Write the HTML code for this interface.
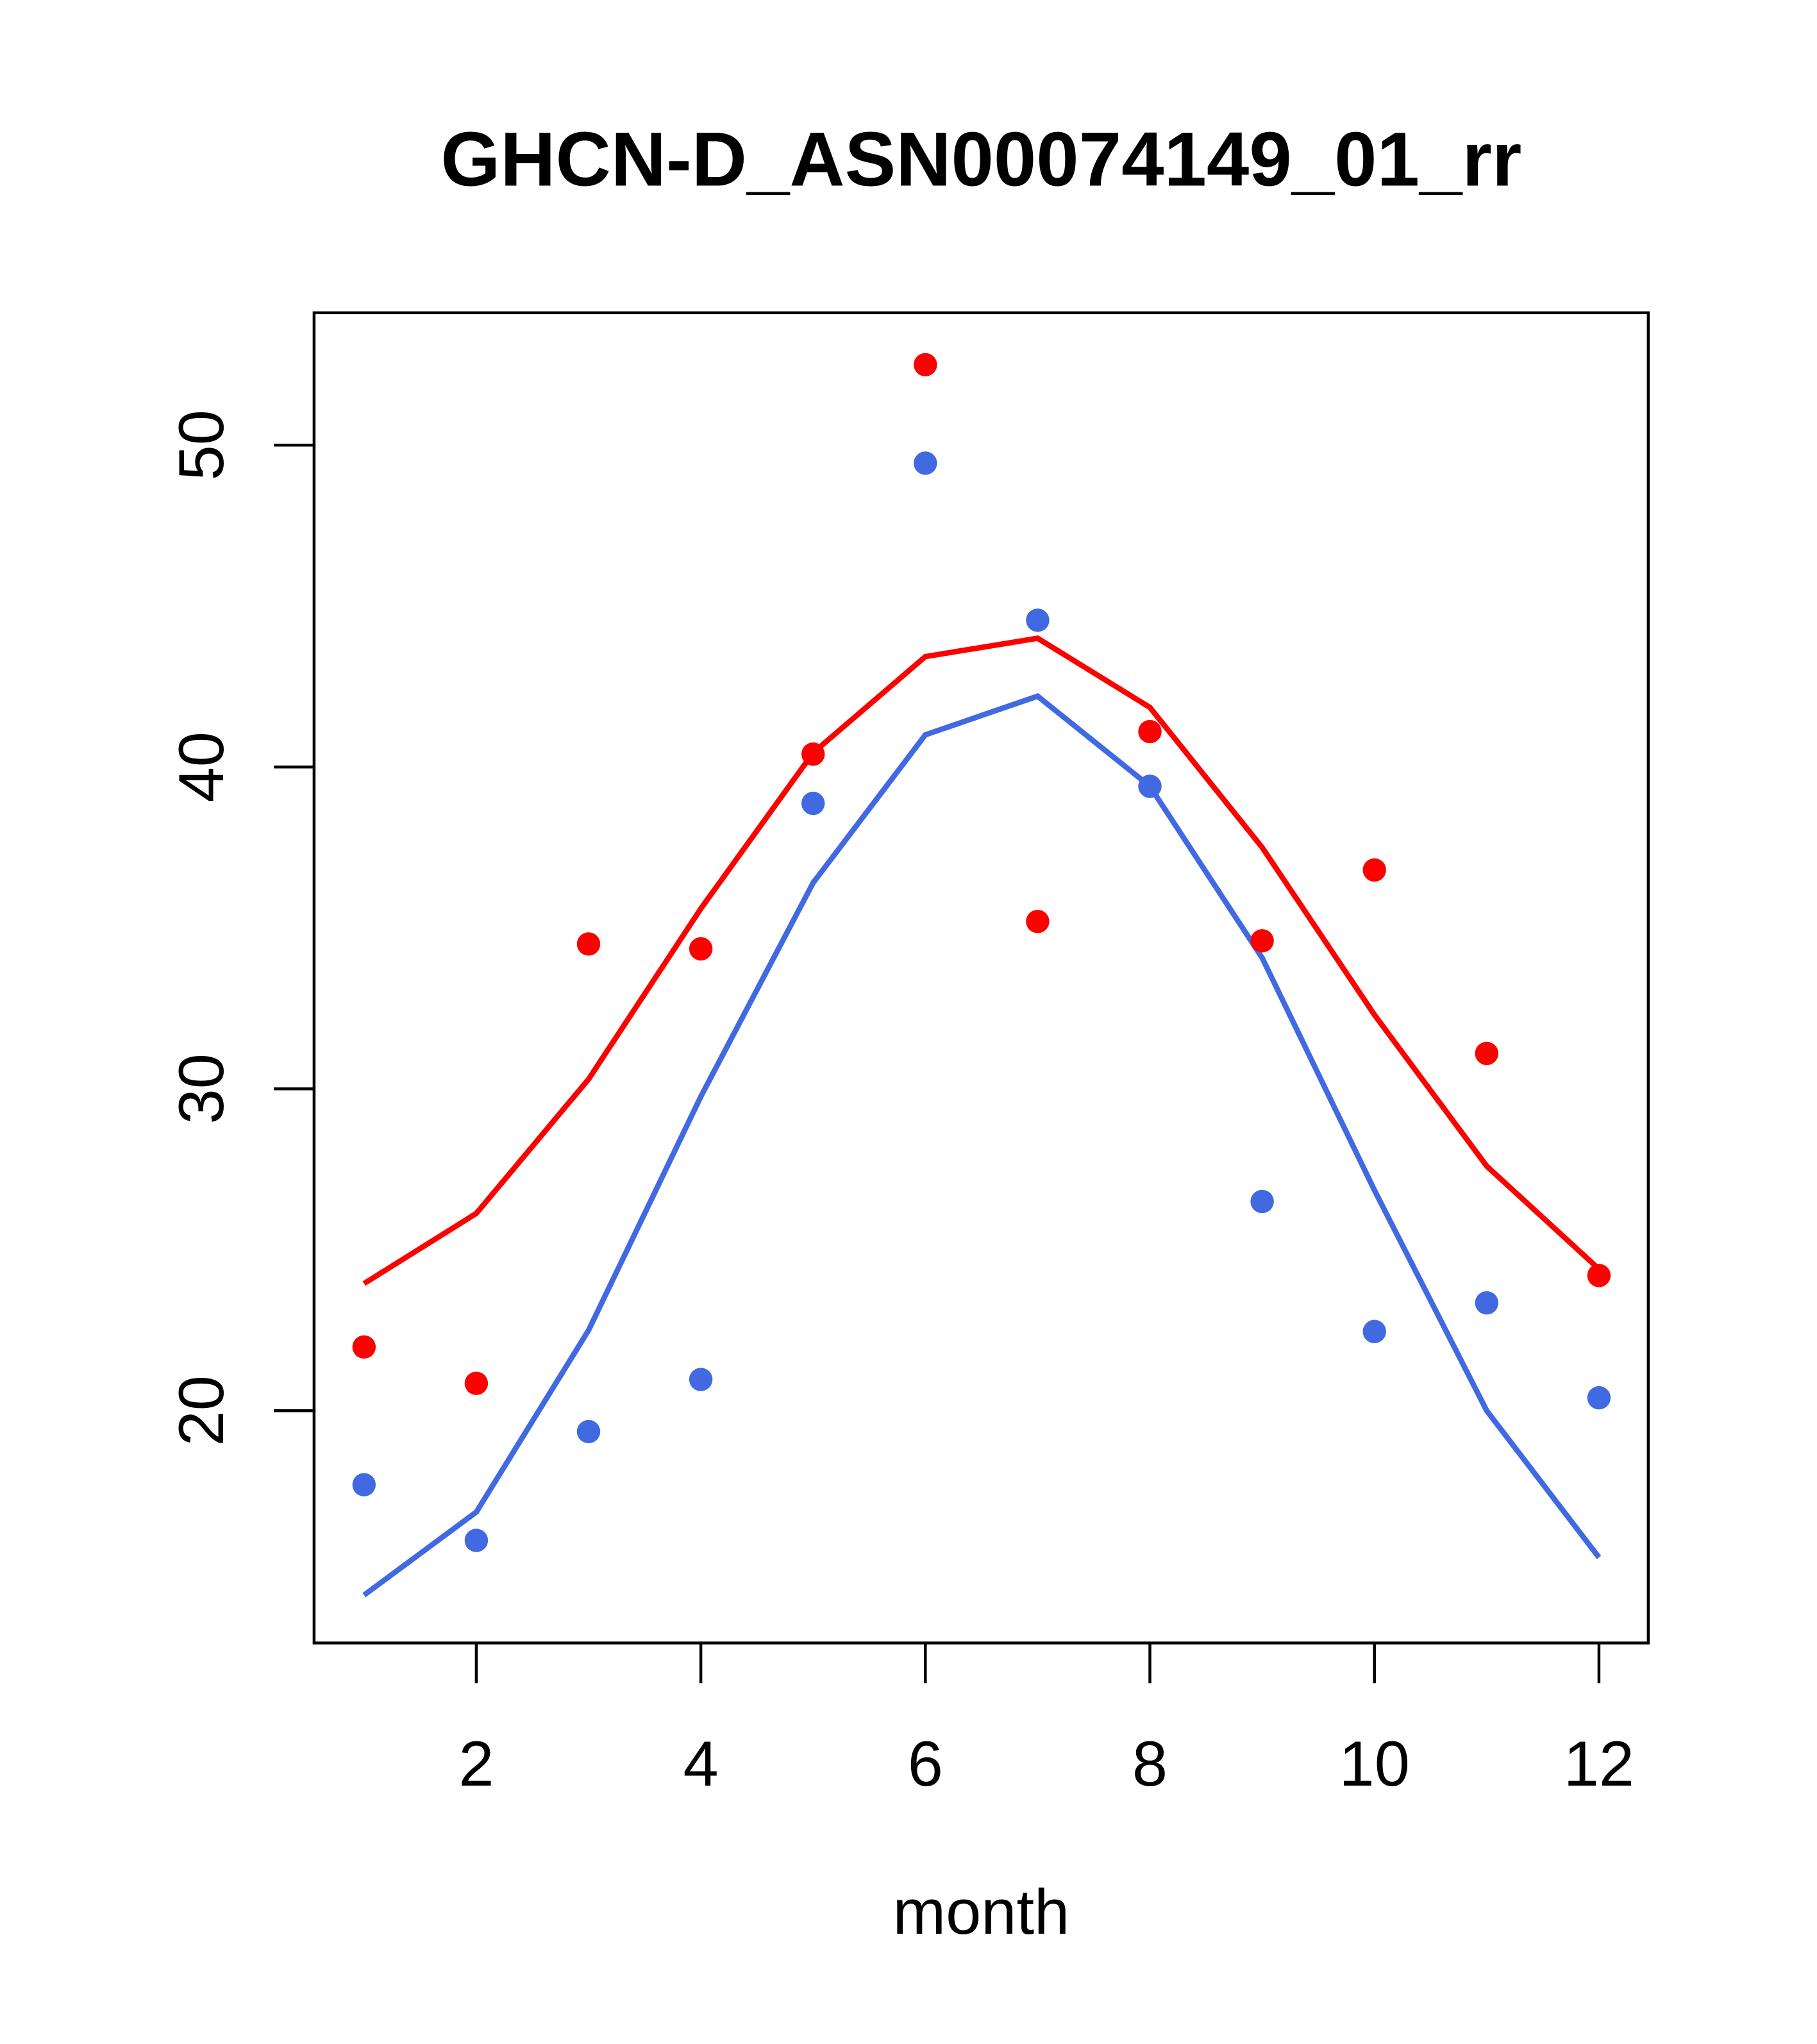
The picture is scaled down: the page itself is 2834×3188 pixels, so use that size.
<!DOCTYPE html>
<html><head><meta charset="utf-8"><style>
html,body{margin:0;padding:0;background:#fff;}
svg{display:block;}
text{font-family:"Liberation Sans",Arial,sans-serif;fill:#000;}
</style></head><body>
<svg id="chart" width="2834" height="3188" viewBox="0 0 1400 1575" preserveAspectRatio="none" xmlns="http://www.w3.org/2000/svg">
<rect x="0" y="0" width="1400" height="1575" fill="#fff"/>
<text x="756" y="143" text-anchor="middle" font-size="59" font-weight="bold">GHCN-D_ASN00074149_01_rr</text>
<rect x="242" y="241" width="1028" height="1025" fill="none" stroke="#000" stroke-width="2.2"/>
<text x="756" y="1490" text-anchor="middle" font-size="49">month</text>
<g id="xaxis"></g>
<g id="yaxis"></g>
<g id="series"></g>
</svg>
<script>
const months=[1,2,3,4,5,6,7,8,9,10,11,12];
const xTicks=[2,4,6,8,10,12];
const yTicks=[20,30,40,50];
const redPoints=[21.98,20.85,34.5,34.35,40.4,52.5,35.2,41.1,34.6,36.8,31.1,24.2];
const bluePoints=[17.7,15.97,19.35,20.97,38.87,49.44,44.56,39.4,26.5,22.46,23.35,20.4];
const redLine=[23.95,26.13,30.3,35.6,40.44,43.43,44.0,41.85,37.5,32.3,27.6,24.4];
const blueLine=[14.27,16.85,22.5,29.76,36.4,41.0,42.2,39.4,34.07,26.85,20.0,15.44];

const NS="http://www.w3.org/2000/svg";
function xS(m){return 367+(m-2)*86.5;}
function yS(v){return 1087-(v-20)*24.8;}
function mk(tag,attrs,parent){const e=document.createElementNS(NS,tag);for(const k in attrs)e.setAttribute(k,attrs[k]);parent.appendChild(e);return e;}

const xa=document.getElementById('xaxis');
xTicks.forEach(t=>{
  const l=mk('line',{x1:xS(t),x2:xS(t),y1:1266,y2:1297,stroke:'#000','stroke-width':2.2},xa);
  
  
  const tx=mk('text',{x:xS(t),y:1376,'text-anchor':'middle','font-size':49},xa);
  tx.textContent=t;
  
  
});
const ya=document.getElementById('yaxis');
yTicks.forEach(t=>{
  const l=mk('line',{x1:211,x2:242,y1:yS(t),y2:yS(t),stroke:'#000','stroke-width':2.2},ya);
  
  
  const tx=mk('text',{x:0,y:0,'text-anchor':'middle','font-size':49,transform:`translate(172,${yS(t)}) rotate(-90)`},ya);
  tx.textContent=t;
  
  
});

const sg=document.getElementById('series');
function drawLine(vals,color,name){
  const p=mk('polyline',{points:vals.map((v,i)=>xS(months[i])+','+yS(v)).join(' '),fill:'none',stroke:color,'stroke-width':4.2},sg);
  
  
}
function drawPts(vals,color,name){
  vals.forEach((v,i)=>{
    const c=mk('circle',{cx:xS(months[i]),cy:yS(v),r:9,fill:color},sg);
    
    
  });
}
drawLine(redLine,'#ff0000','red-line');
drawLine(blueLine,'#4169e1','blue-line');
drawPts(redPoints,'#ff0000','red-point');
drawPts(bluePoints,'#4169e1','blue-point');
</script>
</body></html>
